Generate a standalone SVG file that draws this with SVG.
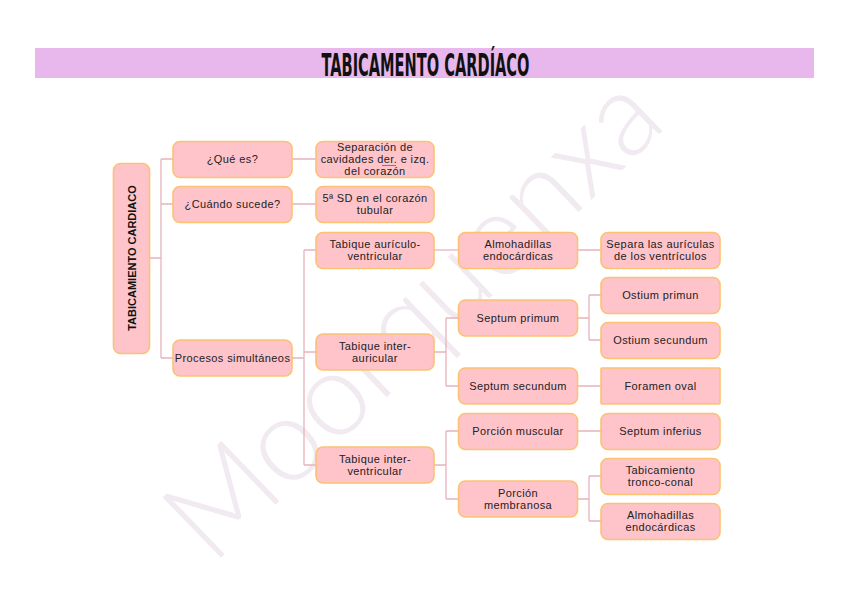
<svg xmlns="http://www.w3.org/2000/svg" width="848" height="599" viewBox="0 0 848 599">
<style>
.box{fill:#ffc4ca;stroke:#fbc272;stroke-width:1.6}
.t{font-family:"Liberation Sans",Arial,sans-serif;font-size:11px;letter-spacing:0.4px;fill:#222;text-anchor:middle}
.c{fill:none;stroke:#e9b3bb;stroke-width:1.3}
</style>
<rect width="848" height="599" fill="#ffffff"/>
<text x="212" y="566" transform="rotate(-44 212 566)" font-family="Lato, 'Open Sans', sans-serif" font-weight="300" font-size="118" fill="#f1eaf1" textLength="635" lengthAdjust="spacingAndGlyphs">Moorquenxa</text>
<g id="title">
<rect x="35" y="48" width="779" height="30" fill="#e8b8ec"/>
<text x="425.5" y="75.5" font-family="'DejaVu Sans Condensed','DejaVu Sans',sans-serif" font-weight="bold" font-size="32" fill="#111" text-anchor="middle" textLength="208" lengthAdjust="spacingAndGlyphs">TABICAMENTO CARDÍACO</text>
</g>
<g id="connectors">
<path class="c" d="M150 258H161M161 159V358M161 159H173M161 204H173M161 358H173"/>
<path class="c" d="M292 159H316M292 204H316"/>
<path class="c" d="M292 358H304M304 250V465M304 250H316M304 352H316M304 465H316"/>
<path class="c" d="M434 250H458"/>
<path class="c" d="M434 352H446M446 318V386M446 318H458M446 386H458"/>
<path class="c" d="M434 465H446M446 431V499M446 431H458M446 499H458"/>
<path class="c" d="M577 250H601M577 386H601M577 431H601"/>
<path class="c" d="M577 318H589M589 295V340M589 295H601M589 340H601"/>
<path class="c" d="M577 499H589M589 476V521M589 476H601M589 521H601"/>
</g>
<g id="main">
<rect class="box" x="113.5" y="163.5" width="36" height="190" rx="7"/>
<text transform="translate(135.5 258) rotate(-90)" x="0" y="0" font-family="'Liberation Sans',Arial,sans-serif" font-weight="bold" font-size="11" fill="#111" text-anchor="middle">TABICAMIENTO CARDIACO</text>
</g>
<g id="que-es"><rect class="box" x="173" y="141.5" width="119" height="36" rx="7"/><text class="t" x="232.5" y="163">¿Qué es?</text></g>
<g id="cuando"><rect class="box" x="173" y="186.5" width="119" height="36" rx="7"/><text class="t" x="232.5" y="208">¿Cuándo sucede?</text></g>
<g id="procesos"><rect class="box" x="173" y="340" width="119" height="36" rx="7"/><text class="t" x="232.5" y="362">Procesos simultáneos</text></g>
<g id="separacion"><rect class="box" x="316" y="141.5" width="118" height="36" rx="7"/><text class="t" x="375" y="151">Separación de</text><text class="t" x="375" y="163">cavidades der. e izq.</text><text class="t" x="375" y="175">del corazón</text><path d="M382 165.5h14" stroke="#e03040" stroke-width="0.8"/></g>
<g id="sd"><rect class="box" x="316" y="186.5" width="118" height="36" rx="7"/><text class="t" x="375" y="202">5ª SD en el corazón</text><text class="t" x="375" y="214">tubular</text></g>
<g id="tav"><rect class="box" x="316" y="232.5" width="118" height="36" rx="7"/><text class="t" x="375" y="248">Tabique aurículo-</text><text class="t" x="375" y="260">ventricular</text></g>
<g id="tia"><rect class="box" x="316" y="334" width="118" height="36" rx="7"/><text class="t" x="375" y="350">Tabique inter-</text><text class="t" x="375" y="362">auricular</text></g>
<g id="tiv"><rect class="box" x="316" y="447" width="118" height="36" rx="7"/><text class="t" x="375" y="463">Tabique inter-</text><text class="t" x="375" y="475">ventricular</text></g>
<g id="almo1"><rect class="box" x="458.5" y="232.5" width="119" height="36" rx="7"/><text class="t" x="518" y="248">Almohadillas</text><text class="t" x="518" y="260">endocárdicas</text></g>
<g id="sprimum"><rect class="box" x="458.5" y="300" width="119" height="36" rx="7"/><text class="t" x="518" y="322">Septum primum</text></g>
<g id="ssecundum"><rect class="box" x="458.5" y="368" width="119" height="36" rx="7"/><text class="t" x="518" y="390">Septum secundum</text></g>
<g id="pmuscular"><rect class="box" x="458.5" y="413.5" width="119" height="36" rx="7"/><text class="t" x="518" y="435">Porción muscular</text></g>
<g id="pmembranosa"><rect class="box" x="458.5" y="481" width="119" height="36" rx="7"/><text class="t" x="518" y="497">Porción</text><text class="t" x="518" y="509">membranosa</text></g>
<g id="separa"><rect class="box" x="601" y="232.5" width="119" height="36" rx="7"/><text class="t" x="660.5" y="248">Separa las aurículas</text><text class="t" x="660.5" y="260">de los ventrículos</text></g>
<g id="oprimun"><rect class="box" x="601" y="277.5" width="119" height="36" rx="7"/><text class="t" x="660.5" y="299">Ostium primun</text></g>
<g id="osecundum"><rect class="box" x="601" y="322.5" width="119" height="36" rx="7"/><text class="t" x="660.5" y="344">Ostium secundum</text></g>
<g id="foramen"><rect class="box" x="601" y="368" width="119" height="36" rx="1"/><text class="t" x="660.5" y="390">Foramen oval</text></g>
<g id="sinferius"><rect class="box" x="601" y="413.5" width="119" height="36" rx="7"/><text class="t" x="660.5" y="435">Septum inferius</text></g>
<g id="troncoconal"><rect class="box" x="601" y="458.5" width="119" height="36" rx="7"/><text class="t" x="660.5" y="474">Tabicamiento</text><text class="t" x="660.5" y="486">tronco-conal</text></g>
<g id="almo2"><rect class="box" x="601" y="503.5" width="119" height="36" rx="7"/><text class="t" x="660.5" y="519">Almohadillas</text><text class="t" x="660.5" y="531">endocárdicas</text></g>
</svg>
